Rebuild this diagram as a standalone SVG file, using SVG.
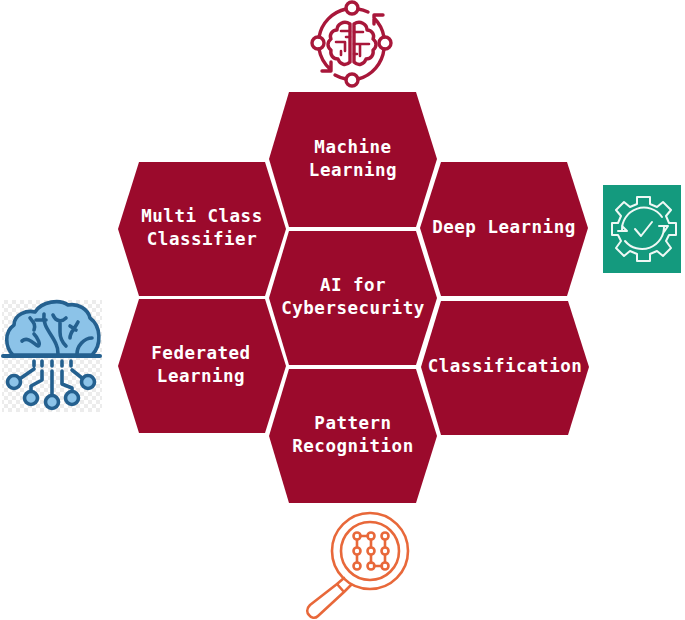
<svg xmlns="http://www.w3.org/2000/svg" width="685" height="620" viewBox="0 0 685 620">
<style>
.hex{fill:#9b0a2c}
.t{font-family:"DejaVu Sans Mono","Liberation Mono",monospace;font-weight:700;font-size:17.5px;fill:#fff;text-anchor:middle;letter-spacing:.5px}
.red{fill:none;stroke:#a8173a;stroke-width:3.4;stroke-linecap:round;stroke-linejoin:round}
.org{fill:none;stroke:#e8683a;stroke-width:2.6;stroke-linecap:round;stroke-linejoin:round}
.wht{fill:none;stroke:#eef8f5;stroke-width:2;stroke-linecap:round;stroke-linejoin:round}
.blu{fill:none;stroke:#24608f;stroke-width:3.6;stroke-linecap:round;stroke-linejoin:round}
</style>
<defs>
<pattern id="chk" width="8" height="8" patternUnits="userSpaceOnUse">
<rect width="8" height="8" fill="#fff"/>
<rect width="4" height="4" fill="#ececec"/>
<rect x="4" y="4" width="4" height="4" fill="#ececec"/>
</pattern>
</defs>
<g id="hex-ml"><polygon class="hex" points="289,92 416,92 437,159 416,227 289,227 269,159"/><text class="t" x="353" y="153">Machine</text><text class="t" x="353" y="176">Learning</text></g>
<g id="hex-mc"><polygon class="hex" points="139,162 265,162 286,229 265,296 139,296 118,229"/><text class="t" x="202" y="222">Multi Class</text><text class="t" x="202" y="245">Classifier</text></g>
<g id="hex-dl"><polygon class="hex" points="441,162 567,162 588,228 567,296 441,296 420,228"/><text class="t" x="504" y="233">Deep Learning</text></g>
<g id="hex-ai"><polygon class="hex" points="289,231 416,231 437,298 416,365 289,365 269,298"/><text class="t" x="353" y="291">AI for</text><text class="t" x="353" y="314">Cybersecurity</text></g>
<g id="hex-fl"><polygon class="hex" points="139,299 265,299 286,366 265,433 139,433 118,366"/><text class="t" x="201" y="359">Federated</text><text class="t" x="201" y="382">Learning</text></g>
<g id="hex-cl"><polygon class="hex" points="441,301 568,301 589,367 568,435 441,435 421,367"/><text class="t" x="505" y="372">Classification</text></g>
<g id="hex-pr"><polygon class="hex" points="289,369 416,369 437,436 416,503 289,503 269,436"/><text class="t" x="353" y="429">Pattern</text><text class="t" x="353" y="452">Recognition</text></g>

<g id="icon-brain-red" class="red">
<circle cx="352" cy="8" r="6"/><circle cx="318" cy="43" r="6"/><circle cx="385" cy="43" r="6"/><circle cx="352" cy="80" r="6"/>
<path d="M346 9A35 35 0 0 0 319 37M358 9A35 35 0 0 1 368 12"/>
<path d="M319 49A35 35 0 0 0 330 69M322 71L331 71L331 62"/>
<path d="M335 75A35 35 0 0 0 346 79M358 79A35 35 0 0 0 384 49M384 37A35 35 0 0 0 374 18M374 15L374 24M374 15L383 15"/>
<path d="M350 24C344 20 337 24 337 30C332 30 329 35 331 39C327 42 327 47 331 50C330 55 333 59 338 59C340 65 346 66 350 62Z"/>
<path d="M354 24C360 20 367 24 367 30C372 30 375 35 373 39C377 42 377 47 373 50C374 55 371 59 366 59C364 65 358 66 354 62Z"/>
<path d="M350 31H341M336 42H345V51M341 51V55M350 37H346M354 32H363M354 44H369M360 44V56M354 54H357" stroke-width="2.6"/>
</g>

<g id="icon-gear">
<rect x="603" y="185" width="78" height="88" fill="#149a7e"/>
<path class="wht" d="M637 197H650V204L657 207L663 202L671 210L666 216L669 223H676V235H669L666 241L671 248L663 256L657 251L650 254V261H637V254L630 251L624 256L616 248L621 241L618 235H612V223H618L621 216L616 210L624 202L630 207L637 204Z"/>
<path class="wht" d="M622 231A22 22 0 0 1 662 217M664 226A22 22 0 0 1 625 241M618 231H627L622 226M659 226H668L664 232"/>
<path class="wht" d="M635 229L641 236L652 222"/>
</g>

<g id="icon-cloud-brain">
<rect x="2" y="300" width="100" height="112" fill="url(#chk)"/>
<path d="M13 355C5 347 4 332 14 325C14 314 27 310 35 312C42 301 60 299 68 305C78 303 88 309 90 318C101 326 102 345 92 355Z" fill="#8cc3e8" stroke="#24608f" stroke-width="3.6" stroke-linejoin="round"/>
<g class="blu">
<path d="M3 356H100" stroke-width="4"/>
<path d="M22 341C28 336 34 344 38 346C41 345 38 338 34 334M30 318C33 322 36 324 34 330M44 314C42 326 52 334 56 344C58 348 58 350 58 354M46 320H36M66 318C62 322 56 322 53 315M60 322V332C60 340 64 344 66 346M78 322C74 330 70 332 70 338M70 326L76 330M92 338C84 338 77 346 77 354"/>
<path d="M34 369L21 378M34 361V366M42 361V366M52 361V366M62 361V366M71 361V366"/>
<path d="M72 370L82 378M42 371V380L31 386V392M52 371V395M62 371V384L72 388V392"/>
<circle cx="14" cy="382" r="6.500" fill="#8cc3e8"/><circle cx="88" cy="382" r="6.500" fill="#8cc3e8"/><circle cx="31" cy="398" r="6.500" fill="#8cc3e8"/><circle cx="52" cy="402" r="6.500" fill="#8cc3e8"/><circle cx="72" cy="398" r="6.500" fill="#8cc3e8"/>
</g>
</g>

<g id="icon-magnifier" class="org">
<circle cx="370" cy="551" r="38"/><circle cx="370" cy="551" r="29"/>
<path d="M344 578L337 584L344 592L351 585M337 584L310 605C306 609 307 613 309 615C311 618 315 619 318 616L344 592"/>
<path d="M360 536H368M357 540V547M357 555V562M371 540V547M371 555V563M385 540V547M385 555V562M374 566H382"/>
<g>
<circle cx="357" cy="536" r="3.500"/><circle cx="371" cy="536" r="3.500"/><circle cx="385" cy="536" r="3.500"/>
<circle cx="357" cy="551" r="3.500"/><circle cx="371" cy="551" r="3.500"/><circle cx="385" cy="551" r="3.500"/>
<circle cx="357" cy="566" r="3.500"/><circle cx="371" cy="566" r="3.500"/><circle cx="385" cy="566" r="3.500"/>
</g>
</g>
</svg>
